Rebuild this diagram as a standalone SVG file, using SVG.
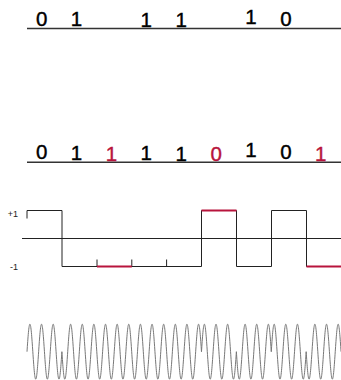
<svg xmlns="http://www.w3.org/2000/svg" width="341" height="380" viewBox="0 0 341 380">
<style>
.d{font-family:"Liberation Sans",Arial,sans-serif;font-size:20.5px;fill:#000;stroke:#000;stroke-width:0.4;text-anchor:middle}
.r{fill:#b8143c;stroke:#b8143c}
.lbl{font-family:"Liberation Sans",Arial,sans-serif;font-size:9px;fill:#222;text-anchor:end}
.rule{stroke:#333;stroke-width:1.4;fill:none}
.w{stroke:#222;stroke-width:1;fill:none}
.red{stroke:#b8143c;stroke-width:2;fill:none}
.sine{stroke:#777;stroke-width:1;fill:none}
</style>
<rect width="341" height="380" fill="#fff"/>
<g id="row1">
<line class="rule" x1="27" y1="28.5" x2="341" y2="28.5"/>
<text class="d" x="41.7" y="25.5">0</text>
<text class="d" x="76.5" y="26">1</text>
<text class="d" x="146.3" y="26.5">1</text>
<text class="d" x="181.2" y="27.3">1</text>
<text class="d" x="251" y="24.3">1</text>
<text class="d" x="285.9" y="25.7">0</text>
</g>
<g id="row2">
<line class="rule" x1="27" y1="162.3" x2="341" y2="162.3"/>
<text class="d" x="41.7" y="159">0</text>
<text class="d" x="76.5" y="160">1</text>
<text class="d r" x="111.4" y="160.7">1</text>
<text class="d" x="146.3" y="159.5">1</text>
<text class="d" x="181.2" y="160.7">1</text>
<text class="d r" x="216.1" y="160.7">0</text>
<text class="d" x="251" y="157">1</text>
<text class="d" x="285.9" y="159">0</text>
<text class="d r" x="320.8" y="160.7">1</text>
</g>
<g id="nrz">
<text class="lbl" x="18" y="216.5">+1</text>
<text class="lbl" x="18" y="270">-1</text>
<line class="w" x1="22" y1="238.5" x2="341" y2="238.5"/>
<path class="w" d="M27,218.5V210.5H62V266.5H201.5V210.5H236.5V266.5H271.5V210.5H306.5V266.5H341"/>
<path class="w" d="M97,259.5V266.5M131.8,259.5V266.5M166.6,259.5V266.5"/>
<path class="red" d="M97,266.5H131.8M201.5,210.5H236.5M306.5,266.5H341"/>
</g>
<g id="psk">
<path class="sine" d="M27,351.7
c0.949,-14.09 1.855,-27.5 2.908,-27.5 c1.052,0 1.958,13.41 2.908,27.5 c0.949,14.09 1.855,27.5 2.908,27.5 c1.052,0 1.958,-13.41 2.908,-27.5
c0.949,-14.09 1.855,-27.5 2.908,-27.5 c1.052,0 1.958,13.41 2.908,27.5 c0.949,14.09 1.855,27.5 2.908,27.5 c1.052,0 1.958,-13.41 2.908,-27.5
c0.949,-14.09 1.855,-27.5 2.908,-27.5 c1.052,0 1.958,13.41 2.908,27.5 c0.949,14.09 1.855,27.5 2.908,27.5 c1.052,0 1.958,-13.41 2.908,-27.5
c0.949,14.09 1.855,27.5 2.908,27.5 c1.052,0 1.958,-13.41 2.908,-27.5 c0.949,-14.09 1.855,-27.5 2.908,-27.5 c1.052,0 1.958,13.41 2.908,27.5
c0.949,14.09 1.855,27.5 2.908,27.5 c1.052,0 1.958,-13.41 2.908,-27.5 c0.949,-14.09 1.855,-27.5 2.908,-27.5 c1.052,0 1.958,13.41 2.908,27.5
c0.949,14.09 1.855,27.5 2.908,27.5 c1.052,0 1.958,-13.41 2.908,-27.5 c0.949,-14.09 1.855,-27.5 2.908,-27.5 c1.052,0 1.958,13.41 2.908,27.5
c0.949,14.09 1.855,27.5 2.908,27.5 c1.052,0 1.958,-13.41 2.908,-27.5 c0.949,-14.09 1.855,-27.5 2.908,-27.5 c1.052,0 1.958,13.41 2.908,27.5
c0.949,14.09 1.855,27.5 2.908,27.5 c1.052,0 1.958,-13.41 2.908,-27.5 c0.949,-14.09 1.855,-27.5 2.908,-27.5 c1.052,0 1.958,13.41 2.908,27.5
c0.949,14.09 1.855,27.5 2.908,27.5 c1.052,0 1.958,-13.41 2.908,-27.5 c0.949,-14.09 1.855,-27.5 2.908,-27.5 c1.052,0 1.958,13.41 2.908,27.5
c0.949,14.09 1.855,27.5 2.908,27.5 c1.052,0 1.958,-13.41 2.908,-27.5 c0.949,-14.09 1.855,-27.5 2.908,-27.5 c1.052,0 1.958,13.41 2.908,27.5
c0.949,14.09 1.855,27.5 2.908,27.5 c1.052,0 1.958,-13.41 2.908,-27.5 c0.949,-14.09 1.855,-27.5 2.908,-27.5 c1.052,0 1.958,13.41 2.908,27.5
c0.949,14.09 1.855,27.5 2.908,27.5 c1.052,0 1.958,-13.41 2.908,-27.5 c0.949,-14.09 1.855,-27.5 2.908,-27.5 c1.052,0 1.958,13.41 2.908,27.5
c0.949,14.09 1.855,27.5 2.908,27.5 c1.052,0 1.958,-13.41 2.908,-27.5 c0.949,-14.09 1.855,-27.5 2.908,-27.5 c1.052,0 1.958,13.41 2.908,27.5
c0.949,14.09 1.855,27.5 2.908,27.5 c1.052,0 1.958,-13.41 2.908,-27.5 c0.949,-14.09 1.855,-27.5 2.908,-27.5 c1.052,0 1.958,13.41 2.908,27.5
c0.949,14.09 1.855,27.5 2.908,27.5 c1.052,0 1.958,-13.41 2.908,-27.5 c0.949,-14.09 1.855,-27.5 2.908,-27.5 c1.052,0 1.958,13.41 2.908,27.5
c0.949,-14.09 1.855,-27.5 2.908,-27.5 c1.052,0 1.958,13.41 2.908,27.5 c0.949,14.09 1.855,27.5 2.908,27.5 c1.052,0 1.958,-13.41 2.908,-27.5
c0.949,-14.09 1.855,-27.5 2.908,-27.5 c1.052,0 1.958,13.41 2.908,27.5 c0.949,14.09 1.855,27.5 2.908,27.5 c1.052,0 1.958,-13.41 2.908,-27.5
c0.949,-14.09 1.855,-27.5 2.908,-27.5 c1.052,0 1.958,13.41 2.908,27.5 c0.949,14.09 1.855,27.5 2.908,27.5 c1.052,0 1.958,-13.41 2.908,-27.5
c0.949,14.09 1.855,27.5 2.908,27.5 c1.052,0 1.958,-13.41 2.908,-27.5 c0.949,-14.09 1.855,-27.5 2.908,-27.5 c1.052,0 1.958,13.41 2.908,27.5
c0.949,14.09 1.855,27.5 2.908,27.5 c1.052,0 1.958,-13.41 2.908,-27.5 c0.949,-14.09 1.855,-27.5 2.908,-27.5 c1.052,0 1.958,13.41 2.908,27.5
c0.949,14.09 1.855,27.5 2.908,27.5 c1.052,0 1.958,-13.41 2.908,-27.5 c0.949,-14.09 1.855,-27.5 2.908,-27.5 c1.052,0 1.958,13.41 2.908,27.5
c0.949,-14.09 1.855,-27.5 2.908,-27.5 c1.052,0 1.958,13.41 2.908,27.5 c0.949,14.09 1.855,27.5 2.908,27.5 c1.052,0 1.958,-13.41 2.908,-27.5
c0.949,-14.09 1.855,-27.5 2.908,-27.5 c1.052,0 1.958,13.41 2.908,27.5 c0.949,14.09 1.855,27.5 2.908,27.5 c1.052,0 1.958,-13.41 2.908,-27.5
c0.949,-14.09 1.855,-27.5 2.908,-27.5 c1.052,0 1.958,13.41 2.908,27.5 c0.949,14.09 1.855,27.5 2.908,27.5 c1.052,0 1.958,-13.41 2.908,-27.5
c0.949,14.09 1.855,27.5 2.908,27.5 c1.052,0 1.958,-13.41 2.908,-27.5 c0.949,-14.09 1.855,-27.5 2.908,-27.5 c1.052,0 1.958,13.41 2.908,27.5
c0.949,14.09 1.855,27.5 2.908,27.5 c1.052,0 1.958,-13.41 2.908,-27.5 c0.949,-14.09 1.855,-27.5 2.908,-27.5 c1.052,0 1.958,13.41 2.908,27.5
c0.949,14.09 1.855,27.5 2.908,27.5 c1.052,0 1.958,-13.41 2.908,-27.5 c0.949,-14.09 1.855,-27.5 2.908,-27.5 c1.052,0 1.958,13.41 2.908,27.5"/>
</g>
</svg>
